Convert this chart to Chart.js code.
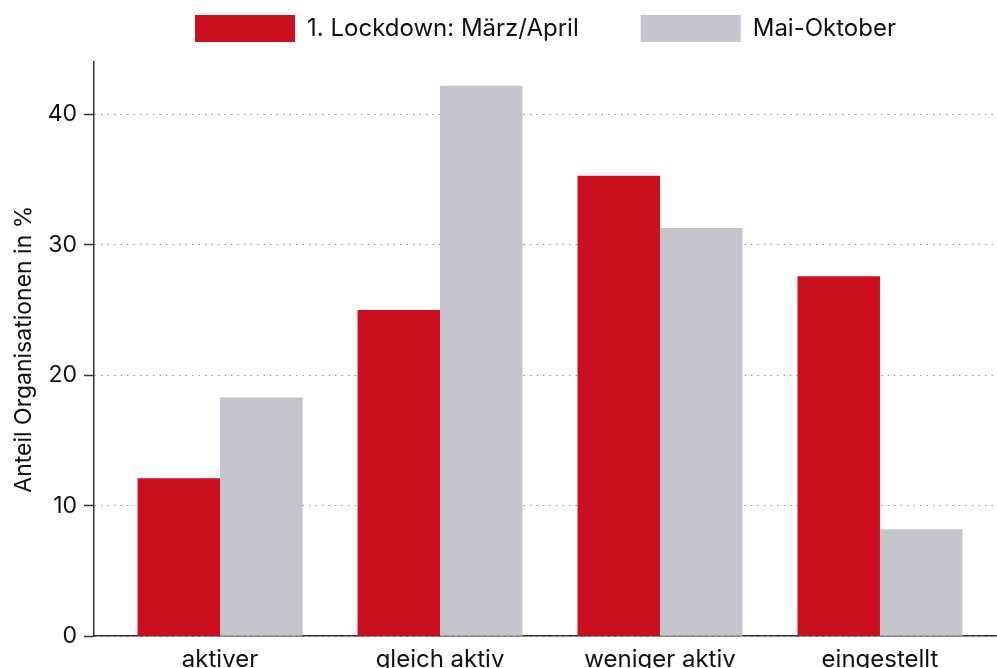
<!DOCTYPE html>
<html>
<head>
<meta charset="utf-8">
<script src="https://cdn.jsdelivr.net/npm/chart.js@4.4.1/dist/chart.umd.min.js"></script>
<style>
  html, body { margin: 0; padding: 0; background: #fff; overflow: hidden; }
</style>
</head>
<body>
<canvas id="activityChart" width="997" height="668"></canvas>
<script>
// Kategorien und Werte (Anteil in %)
var categories = ['aktiver', 'gleich aktiv', 'weniger aktiv', 'eingestellt'];
var lockdownValues = [12.1, 25.0, 35.3, 27.6];
var summerValues = [18.3, 42.2, 31.3, 8.2];
var seriesLabels = ['1. Lockdown: März/April', 'Mai-Oktober'];
var yTicks = [0, 10, 20, 30, 40];

var textFont = 'Inter, "Liberation Sans", Arial, sans-serif';
var textColor = '#111';

// Punkte fuer die lineare x-Achse (Kategorie 1..4)
function toPoints(values) {
  return values.map(function(v, i) { return { x: i + 1, y: v }; });
}

var data = {
  datasets: [{
    label: seriesLabels[0],
    data: toPoints(lockdownValues),
    backgroundColor: '#cc0f1e',
    borderWidth: 0
  }, {
    label: seriesLabels[1],
    data: toPoints(summerValues),
    backgroundColor: '#c3c4cc',
    borderWidth: 0
  }]
};

var options = {
  responsive: false,
  animation: false,
  layout: { padding: { top: -47, left: 0, right: 0, bottom: -15 } },
  datasets: { bar: { categoryPercentage: 0.75, barPercentage: 1.0 } },
  plugins: {
    tooltip: { enabled: false },
    legend: {
      position: 'top',
      fullSize: false,
      labels: {
        boxWidth: 100,
        boxHeight: 27,
        padding: 62,
        color: textColor,
        font: { family: textFont, size: 24 }
      }
    },
    // leerer Titel als Abstand zwischen Legende und Diagramm
    title: {
      display: true,
      text: '',
      weight: 500,
      fullSize: false,
      padding: { top: 9, bottom: 0 },
      font: { size: 1 }
    }
  },
  scales: {
    x: {
      type: 'linear',
      min: 0.427,
      max: 4.532,
      offset: false,
      grid: { display: false, drawTicks: false },
      border: { display: true, color: '#333', width: 1.5 },
      ticks: {
        stepSize: 1,
        includeBounds: false,
        autoSkip: false,
        maxRotation: 0,
        padding: 9,
        color: textColor,
        font: { family: textFont, size: 24 },
        callback: function(v) { return categories[v - 1] || ''; }
      }
    },
    y: {
      min: 0,
      max: 44,
      afterFit: function(scale) { scale.width = 94; },
      afterBuildTicks: function(scale) {
        scale.ticks = yTicks.map(function(v) { return { value: v }; });
      },
      grid: {
        color: '#999',
        lineWidth: 1,
        tickColor: '#333',
        tickLength: 10,
        tickWidth: 1.5,
        tickBorderDash: []
      },
      border: { display: true, color: '#333', width: 1.5, dash: [1.5, 5] },
      ticks: {
        padding: 7,
        color: textColor,
        font: { family: textFont, size: 23 }
      },
      title: {
        display: true,
        text: 'Anteil Organisationen in %',
        color: textColor,
        padding: { top: 10, bottom: 0 },
        font: { family: textFont, size: 23 }
      }
    }
  }
};

var ctx = document.getElementById('activityChart').getContext('2d');
var activityChart = new Chart(ctx, {
  type: 'bar',
  data: data,
  options: options
});
</script>
</body>
</html>
